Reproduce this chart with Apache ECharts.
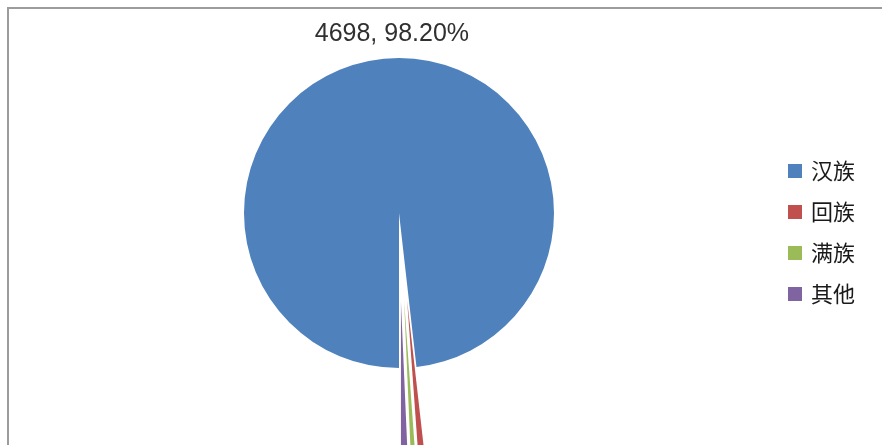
<!DOCTYPE html>
<html>
<head>
<meta charset="utf-8">
<script src="https://cdn.jsdelivr.net/npm/echarts@6/dist/echarts.min.js"></script>
<style>
html,body{margin:0;padding:0;background:#fff;}
#main{width:882px;height:445px;position:absolute;left:0;top:0;}
#frame{position:absolute;left:7px;top:7px;width:880px;height:445px;border-top:2px solid #9c9c9c;border-left:2px solid #9c9c9c;pointer-events:none;}
</style>
</head>
<body>
<div id="main"></div>
<div id="frame"></div>
<script>
var categories = ['汉族', '回族', '满族', '其他'];
var values = [4698, 31, 22, 33];
var colors = ['#4F81BD', '#C0504D', '#9BBB59', '#8064A2'];

var chart = echarts.init(document.getElementById('main'), null, {renderer: 'canvas'});
var data = categories.map(function (name, i) {
  return {
    name: name,
    value: values[i],
    selected: i > 0,
    itemStyle: {color: colors[i]},
    label: {show: i === 0}
  };
});
chart.setOption({
  animation: false,
  backgroundColor: '#ffffff',
  legend: {
    orient: 'vertical',
    left: 783,
    top: 155,
    icon: 'rect',
    itemWidth: 14,
    itemHeight: 14,
    itemGap: 19,
    selectedMode: false,
    data: categories,
    textStyle: {
      fontFamily: 'Noto Sans CJK SC',
      fontSize: 22,
      lineHeight: 22,
      color: '#1a1a1a',
      padding: [0, 0, 0, 4]
    }
  },
  series: [{
    type: 'pie',
    center: [399, 213],
    radius: 155,
    startAngle: 270,
    clockwise: true,
    selectedMode: 'multiple',
    selectedOffset: 88,
    avoidLabelOverlap: false,
    itemStyle: {borderWidth: 0},
    emphasis: {disabled: true},
    label: {
      position: 'outside',
      fontFamily: 'Liberation Sans',
      fontSize: 25,
      color: '#303030',
      formatter: function (p) { return p.value + ', ' + p.percent.toFixed(2) + '%'; }
    },
    labelLine: {show: false, length: 24, length2: 0},
    labelLayout: function () { return {align: 'center', dx: 8}; },
    data: data
  }]
});
</script>
</body>
</html>
